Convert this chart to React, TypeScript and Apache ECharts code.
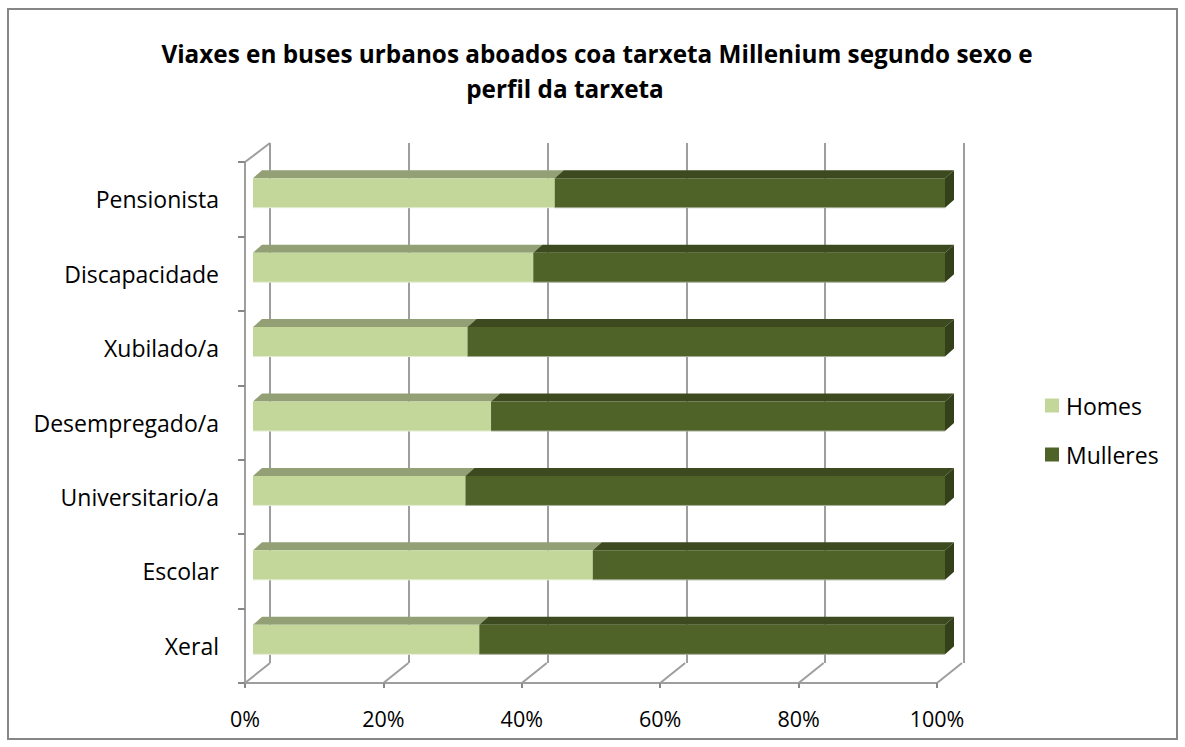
import React, { useEffect, useRef } from "react";
import * as echarts from "echarts";

const categories = ["Xeral", "Escolar", "Universitario/a", "Desempregado/a", "Xubilado/a", "Discapacidade", "Pensionista"];
const homes = [32.7, 49.1, 30.7, 34.4, 31.0, 40.5, 43.6];
const mulleres = [67.3, 50.9, 69.3, 65.6, 69.0, 59.5, 56.4];
const xTicks = [0, 20, 40, 60, 80, 100];
const seriesNames = ["Homes", "Mulleres"];
const titleLines = [
  "Viaxes en buses urbanos aboados coa tarxeta Millenium segundo sexo e",
  "perfil da tarxeta",
];

const FONT = "'Open Sans', sans-serif";
const GRID_COLOR = "#9E9E9E";

function segmentRenderer(front: string, top: string, side: string, light: string, drawSide: boolean) {
  return (params: any, api: any) => {
    const start = api.value(0);
    const end = api.value(1);
    const cat = api.value(2);
    const p0 = api.coord([start, cat]);
    const p1 = api.coord([end, cat]);
    const DX = 9;
    const DY = 8;
    const x0 = p0[0] + 8;
    const x1 = p1[0] + 8;
    const yT = p0[1] - 21;
    const h = 29.5;
    const yB = yT + h;
    const children: any[] = [
      {
        type: "polygon",
        shape: { points: [[x0, yT], [x1, yT], [x1 + DX, yT - DY], [x0 + DX, yT - DY]] },
        style: { fill: top },
      },
      { type: "rect", shape: { x: x0, y: yT, width: x1 - x0, height: h }, style: { fill: front } },
      { type: "line", shape: { x1: x0, y1: yB, x2: x1, y2: yB }, style: { stroke: light, lineWidth: 1 } },
    ];
    if (drawSide) {
      children.push({
        type: "polygon",
        shape: { points: [[x1, yT], [x1 + DX, yT - DY], [x1 + DX, yB - DY], [x1, yB]] },
        style: { fill: side },
      });
    }
    return { type: "group", children };
  };
}

export default function App() {
  const ref = useRef<HTMLDivElement>(null);
  useEffect(() => {
    if (!ref.current) return;
    const chart = echarts.init(ref.current, undefined, { renderer: "svg" });
    const homesData = homes.map((v, i) => [0, v, i]);
    const mulleresData = mulleres.map((v, i) => [homes[i], homes[i] + v, i]);
    chart.setOption({
      animation: false,
      backgroundColor: "#ffffff",
      graphic: [
        {
          type: "rect",
          shape: { x: 8, y: 9, width: 1169, height: 730 },
          style: { fill: "none", stroke: "#868686", lineWidth: 2 },
          silent: true,
        },
        {
          type: "text",
          x: 597,
          y: 53,
          style: {
            text: titleLines[0],
            font: `bold 24.3px ${FONT}`,
            fill: "#000",
            textAlign: "center",
            textVerticalAlign: "middle",
          },
        },
        {
          type: "text",
          x: 565,
          y: 88,
          style: {
            text: titleLines[1],
            font: `bold 24.3px ${FONT}`,
            fill: "#000",
            textAlign: "center",
            textVerticalAlign: "middle",
          },
        },
      ],
      legend: {
        orient: "vertical",
        left: 1045,
        top: 394,
        padding: 0,
        itemWidth: 14,
        itemHeight: 14,
        itemGap: 26,
        icon: "rect",
        data: seriesNames,
        textStyle: { fontFamily: FONT, fontSize: 23, color: "#000", padding: [0, 0, 0, 2] },
      },
      grid: [
        { left: 245, right: 248, top: 162, bottom: 64 },
        { left: 270, right: 221, top: 143, bottom: 84 },
      ],
      xAxis: [
        {
          type: "value",
          gridIndex: 0,
          min: 0,
          max: 100,
          interval: 20,
          axisLine: { show: true, lineStyle: { color: GRID_COLOR, width: 2 } },
          axisTick: { show: true, length: 5, lineStyle: { color: "#888", width: 2 } },
          splitLine: { show: false },
          axisLabel: {
            formatter: (v: number) => (xTicks.includes(v) ? `${v}%` : ""),
            fontFamily: FONT,
            fontSize: 21.5,
            color: "#000",
            margin: 24,
          },
        },
        {
          type: "value",
          gridIndex: 1,
          min: 0,
          max: 100,
          interval: 20,
          axisLine: { show: false },
          axisTick: { show: false },
          axisLabel: { show: false },
          splitLine: { show: true, lineStyle: { color: GRID_COLOR, width: 2 } },
        },
      ],
      yAxis: [
        {
          type: "category",
          gridIndex: 0,
          data: categories,
          axisLine: { show: true, lineStyle: { color: GRID_COLOR, width: 2 } },
          axisTick: { show: true, length: 7, lineStyle: { color: "#888", width: 2 } },
          axisLabel: { fontFamily: FONT, fontSize: 23, color: "#000", margin: 26 },
        },
        {
          type: "category",
          gridIndex: 1,
          data: categories,
          show: false,
        },
      ],
      series: [
        {
          type: "custom",
          name: "frame",
          xAxisIndex: 0,
          yAxisIndex: 0,
          silent: true,
          z: 1,
          data: xTicks.map((v) => [v]),
          encode: { x: 0 },
          renderItem: (params: any, api: any) => {
            const v = api.value(0);
            const cs = params.coordSys;
            const px = api.coord([v, 0])[0];
            const yb = cs.y + cs.height;
            const children: any[] = [
              {
                type: "line",
                shape: { x1: px, y1: yb, x2: px + 25, y2: yb - 20 },
                style: { stroke: GRID_COLOR, lineWidth: 2 },
              },
            ];
            if (v === 0) {
              children.push({
                type: "line",
                shape: { x1: cs.x, y1: cs.y, x2: cs.x + 25, y2: cs.y - 19 },
                style: { stroke: GRID_COLOR, lineWidth: 2 },
              });
            }
            return { type: "group", children };
          },
        },
        {
          type: "custom",
          name: seriesNames[0],
          xAxisIndex: 0,
          yAxisIndex: 0,
          z: 3,
          itemStyle: { color: "#C4D79B" },
          data: homesData,
          encode: { x: [0, 1], y: 2 },
          renderItem: segmentRenderer("#C4D79B", "#939F74", "#7E8C5E", "#E4ECD2", false),
        },
        {
          type: "custom",
          name: seriesNames[1],
          xAxisIndex: 0,
          yAxisIndex: 0,
          z: 4,
          itemStyle: { color: "#4F6228" },
          data: mulleresData,
          encode: { x: [0, 1], y: 2 },
          renderItem: segmentRenderer("#4F6228", "#3D4A1F", "#334019", "#A5AD98", true),
        },
      ],
    });
    return () => chart.dispose();
  }, []);
  return (
    <div
      ref={ref}
      style={{ position: "fixed", left: 0, top: 0, width: 1185, height: 747, background: "#fff" }}
    />
  );
}
